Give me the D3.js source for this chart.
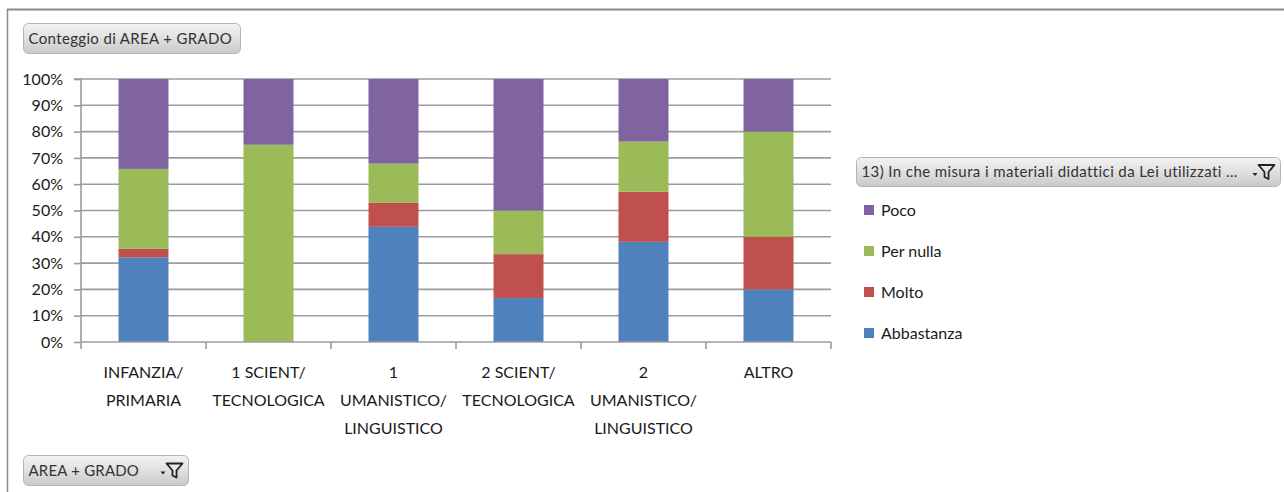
<!DOCTYPE html>
<html>
<head>
<meta charset="utf-8">
<script src="https://cdn.jsdelivr.net/npm/d3@7"></script>
<style>
  html, body { margin: 0; padding: 0; background: #fff; }
  svg { display: block; font-family: Lato, "Open Sans", sans-serif; }
</style>
</head>
<body>
<svg id="chart" width="1284" height="492"></svg>
<script>
// Categories (AREA + GRADO), each label split into its display lines
const categories = [
  "INFANZIA/ PRIMARIA",
  "1 SCIENT/ TECNOLOGICA",
  "1 UMANISTICO/ LINGUISTICO",
  "2 SCIENT/ TECNOLOGICA",
  "2 UMANISTICO/ LINGUISTICO",
  "ALTRO"
];
const categoryLines = [
  ["INFANZIA/", "PRIMARIA"],
  ["1 SCIENT/", "TECNOLOGICA"],
  ["1", "UMANISTICO/", "LINGUISTICO"],
  ["2 SCIENT/", "TECNOLOGICA"],
  ["2", "UMANISTICO/", "LINGUISTICO"],
  ["ALTRO"]
];

// Share of answers per category (percent), stacked bottom to top
const abbastanza = [32.2, 0, 43.8, 16.7, 38.1, 20];
const molto      = [3.2, 0, 9.1, 16.7, 19.0, 20];
const perNulla   = [30.4, 75, 14.9, 16.6, 19.1, 40];
const poco       = [34.2, 25, 32.2, 50.0, 23.8, 20];

const seriesNames = ["Abbastanza", "Molto", "Per nulla", "Poco"];
const seriesColors = ["#4F81BD", "#C0504D", "#9BBB59", "#8064A2"];
const yTicks = [0, 10, 20, 30, 40, 50, 60, 70, 80, 90, 100];

const table = categories.map((c, i) => ({
  category: c,
  "Abbastanza": abbastanza[i],
  "Molto": molto[i],
  "Per nulla": perNulla[i],
  "Poco": poco[i]
}));

const svg = d3.select("#chart");
const textColor = "#1a1a1a";

// Outer frame (top and left edges)
svg.append("line").attr("x1", 7).attr("x2", 1284).attr("y1", 9.5).attr("y2", 9.5)
  .attr("stroke", "#8a8a8a").attr("stroke-width", 2);
svg.append("line").attr("x1", 7.5).attr("x2", 7.5).attr("y1", 9).attr("y2", 492)
  .attr("stroke", "#8a8a8a").attr("stroke-width", 1.5);

// Gradient for the field buttons
const defs = svg.append("defs");
const grad = defs.append("linearGradient").attr("id", "btnGrad")
  .attr("x1", 0).attr("x2", 0).attr("y1", 0).attr("y2", 1);
grad.append("stop").attr("offset", "0%").attr("stop-color", "#f2f2f2");
grad.append("stop").attr("offset", "45%").attr("stop-color", "#e2e2e2");
grad.append("stop").attr("offset", "100%").attr("stop-color", "#c9c9c9");

function fieldButton(x, y, w, h, label, withFilter, fontSize, spacing) {
  const g = svg.append("g").attr("transform", `translate(${x},${y})`);
  g.append("rect").attr("width", w).attr("height", h).attr("rx", 5).attr("ry", 5)
    .attr("fill", "url(#btnGrad)").attr("stroke", "#b4b4b4").attr("stroke-width", 1);
  g.append("text").attr("x", 5).attr("y", h / 2).attr("dy", "0.35em")
    .attr("font-size", fontSize).attr("letter-spacing", spacing)
    .attr("fill", "#333").text(label);
  if (withFilter) {
    const fx = w - 22, fy = h / 2 - 7;
    // small dropdown arrow + funnel
    g.append("path").attr("d", `M${fx - 6},${fy + 8} l5,0 l-2.5,3 z`).attr("fill", "#222");
    g.append("path")
      .attr("d", `M${fx},${fy} L${fx + 16},${fy} L${fx + 10},${fy + 7} L${fx + 10},${fy + 14} L${fx + 6},${fy + 12} L${fx + 6},${fy + 7} Z`)
      .attr("fill", "#e8e8e8").attr("stroke", "#222").attr("stroke-width", 1.8).attr("stroke-linejoin", "round");
  }
}

fieldButton(23.5, 23.5, 217, 30, "Conteggio di AREA + GRADO", false, 15, 0.35);
fieldButton(23.5, 455.5, 165, 30, "AREA + GRADO", true, 15, 0.2);
fieldButton(856.5, 157.5, 424, 29, "13) In che misura i materiali didattici da Lei utilizzati ...", true, 15, 0.4);

// Plot area
const plotLeft = 81, plotRight = 831, plotTop = 79, plotBottom = 342;

const x = d3.scaleBand().domain(categories).range([plotLeft, plotRight]).paddingInner(0.6).paddingOuter(0.3);
const xOuter = d3.scaleBand().domain(categories).range([plotLeft, plotRight]);
const y = d3.scaleLinear().domain([0, 100]).range([plotBottom, plotTop]);

// Horizontal gridlines
svg.append("g").selectAll("line").data(yTicks.slice(1)).join("line")
  .attr("x1", plotLeft).attr("x2", plotRight)
  .attr("y1", d => y(d)).attr("y2", d => y(d))
  .attr("stroke", "#9c9c9c").attr("stroke-width", 1.6);

// Stacked bars
const stack = d3.stack().keys(seriesNames);
const layers = stack(table);
svg.append("g").selectAll("g").data(layers).join("g")
  .attr("fill", (d, i) => seriesColors[i])
  .selectAll("rect").data(d => d).join("rect")
  .attr("x", d => x(d.data.category))
  .attr("width", x.bandwidth())
  .attr("y", d => y(d[1]))
  .attr("height", d => y(d[0]) - y(d[1]));

// Y axis
const yAxis = d3.axisLeft(y).tickValues(yTicks).tickFormat(d => d + "%").tickSize(7).tickPadding(11);
const gy = svg.append("g").attr("transform", `translate(${plotLeft},0)`).call(yAxis);
gy.select(".domain").attr("stroke", "#9c9c9c").attr("stroke-width", 1.6).attr("d", `M-7,${plotTop}H0V${plotBottom}`);
gy.selectAll(".tick line").attr("stroke", "#9c9c9c").attr("stroke-width", 1.6);
gy.selectAll(".tick text").attr("font-size", 16).attr("fill", textColor)
  .attr("font-family", "Lato, sans-serif");

// X axis: ticks at category boundaries
const boundaries = categories.map(c => xOuter(c)).concat([plotRight]);
svg.append("line").attr("x1", plotLeft).attr("x2", plotRight)
  .attr("y1", plotBottom).attr("y2", plotBottom)
  .attr("stroke", "#9c9c9c").attr("stroke-width", 1.6);
svg.append("g").selectAll("line").data(boundaries).join("line")
  .attr("x1", d => d).attr("x2", d => d)
  .attr("y1", plotBottom).attr("y2", plotBottom + 7)
  .attr("stroke", "#9c9c9c").attr("stroke-width", 1.6);

// Category labels
const labels = svg.append("g").selectAll("text").data(categories).join("text")
  .attr("x", d => xOuter(d) + xOuter.bandwidth() / 2)
  .attr("y", 378)
  .attr("text-anchor", "middle")
  .attr("font-size", 16)
  .attr("fill", textColor);
labels.each(function(d, i) {
  d3.select(this).selectAll("tspan").data(categoryLines[i]).join("tspan")
    .attr("x", xOuter(d) + xOuter.bandwidth() / 2)
    .attr("dy", (t, j) => j === 0 ? 0 : 28)
    .text(t => t);
});

// Legend (top series first)
const legendOrder = ["Poco", "Per nulla", "Molto", "Abbastanza"];
const legend = svg.append("g").selectAll("g").data(legendOrder).join("g")
  .attr("transform", (d, i) => `translate(864, ${210 + i * 41})`);
legend.append("rect").attr("x", 0).attr("y", -5).attr("width", 10).attr("height", 10)
  .attr("fill", d => seriesColors[seriesNames.indexOf(d)]);
legend.append("text").attr("x", 17).attr("y", 0).attr("dy", "0.35em")
  .attr("font-size", 16).attr("fill", textColor).text(d => d);
</script>
</body>
</html>
